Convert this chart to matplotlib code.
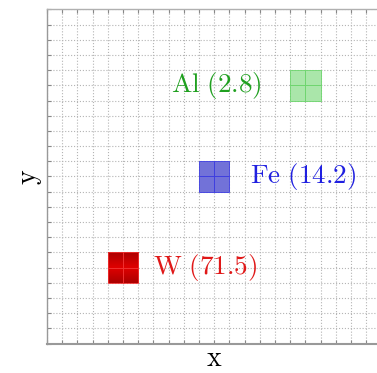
import matplotlib
matplotlib.use("Agg")
import matplotlib.pyplot as plt
from matplotlib.patches import Rectangle
from matplotlib.colors import LinearSegmentedColormap
import numpy as np

plt.rcParams['mathtext.fontset'] = 'cm'

elements = ['W', 'Fe', 'Al']
values = [71.5, 14.2, 2.8]
x_pos = [4, 10, 16]
y_pos = [4, 10, 16]
face_colors = ['#c40000', '#7272d8', '#aae6aa']
edge_colors = ['#f03030', '#3a3ae0', '#6ad46a']
text_colors = ['#e01818', '#2020e0', '#20a020']
label_x_offset = [3.0, 3.35, -1.85]
label_ha = ['left', 'left', 'right']

fig = plt.figure(figsize=(3.77, 3.73), dpi=100)
ax = fig.add_axes([47/377, (373-343.5)/373, 334.5/377, 334/373])
ax.set_xticks(np.arange(0, 23, 1))
ax.set_yticks(np.arange(0, 23, 1))
ax.set_xticklabels([])
ax.set_yticklabels([])
ax.tick_params(direction='in', length=3, width=0.8, color='#888888',
               top=True, right=True)
ax.grid(True, linestyle=':', color='#b4b4b4', linewidth=0.8)
ax.set_axisbelow(True)
for s in ax.spines.values():
    s.set_color('#b0b0b0')
    s.set_linewidth(1.0)
ax.spines['left'].set_color('#999999')
ax.spines['bottom'].set_color('#999999')
ax.spines['bottom'].set_linewidth(1.5)

red_cmap = LinearSegmentedColormap.from_list('wred', ['#ac0000', '#e00000'])
grad = np.linspace(0, 1, 32).reshape(-1, 1)

for i, el in enumerate(elements):
    for dx in range(2):
        for dy in range(2):
            x0, y0 = x_pos[i] + dx, y_pos[i] + dy
            if i == 0:
                g = grad if dy == 0 else grad[::-1]
                ax.imshow(g, cmap=red_cmap, extent=(x0, x0 + 1, y0, y0 + 1),
                          origin='lower', aspect='auto', zorder=3,
                          interpolation='bilinear')
                ax.add_patch(Rectangle((x0, y0), 1, 1, facecolor='none',
                                       edgecolor=edge_colors[i], linewidth=0.6, zorder=3.5))
            else:
                ax.add_patch(Rectangle((x0, y0), 1, 1,
                                       facecolor=face_colors[i], edgecolor=edge_colors[i],
                                       linewidth=0.6, zorder=3))
    label = r'$\mathrm{%s\ (%s)}$' % (el, values[i])
    ax.text(x_pos[i] + label_x_offset[i], y_pos[i] + 1, label, color=text_colors[i],
            fontsize=19.5, ha=label_ha[i], va='center', zorder=4)

ax.set_xlim(0, 22)
ax.set_ylim(0, 22)
ax.set_xlabel(r'$\mathrm{x}$', fontsize=20, labelpad=-3)
ax.set_ylabel(r'$\mathrm{y}$', fontsize=20, labelpad=-1)

fig.savefig('out.png', dpi=100)
